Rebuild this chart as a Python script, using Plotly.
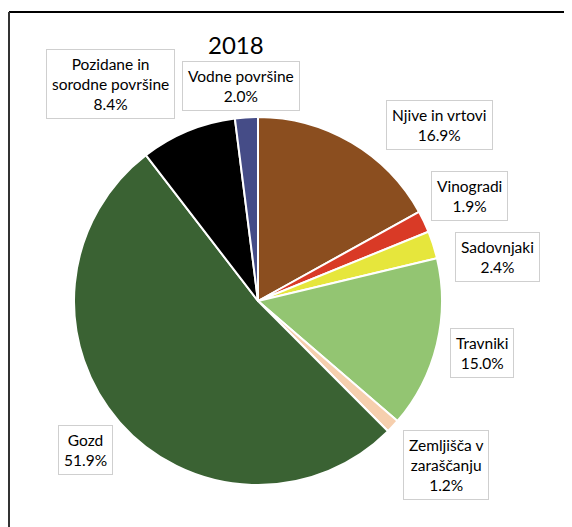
import plotly.graph_objects as go

# figure is placed by the browser at an 8px body offset
OFF = 8
W, H = 572 - OFF, 527 - OFF

categories = ["Njive in vrtovi", "Vinogradi", "Sadovnjaki", "Travniki",
              "Zemljišča v zaraščanju", "Gozd", "Pozidane in sorodne površine",
              "Vodne površine"]
values = [16.9, 1.9, 2.4, 15.0, 1.2, 51.9, 8.4, 2.0]
label_texts = ["Njive in vrtovi<br>16.9%", "Vinogradi<br>1.9%", "Sadovnjaki<br>2.4%",
               "Travniki<br>15.0%", "Zemljišča v<br>zaraščanju<br>1.2%", "Gozd<br>51.9%",
               "Pozidane in<br>sorodne površine<br>8.4%", "Vodne površine<br>2.0%"]
colors = ["#8B4E1F", "#D93A26", "#E6E63C", "#93C572", "#F6CFAE", "#3A6233",
          "#000000", "#454C87"]
title = "2018"

# label box centres in window pixels
label_pos = [(439, 125), (469, 196), (497, 257), (482, 353), (446, 465),
             (85, 450), (110, 84), (241, 86)]


def px(x):
    return (x - OFF) / W


def py(y):
    return 1 - (y - OFF) / H


cx, cy, r = 258, 301, 184

fig = go.Figure(go.Pie(
    labels=categories, values=values, sort=False, direction="clockwise",
    rotation=0, textinfo="none", hoverinfo="label+percent",
    marker=dict(colors=colors, line=dict(color="white", width=2)),
    domain=dict(x=[px(cx - r), px(cx + r)], y=[py(cy + r), py(cy - r)]),
    showlegend=False,
))

annotations = []
for t, (x, y) in zip(label_texts, label_pos):
    annotations.append(dict(
        text=t, x=px(x), y=py(y), xref="paper", yref="paper", showarrow=False,
        xanchor="center", yanchor="middle", align="center",
        font=dict(family="Lato", size=15.5, color="black"),
        bgcolor="white", bordercolor="#CFCFCF", borderwidth=1, borderpad=5,
    ))
annotations.append(dict(text=title, x=px(236), y=py(45), xref="paper", yref="paper",
                        showarrow=False, xanchor="center", yanchor="middle",
                        font=dict(family="Lato", size=24, color="black")))

shapes = [
    dict(type="line", xref="paper", yref="paper", x0=px(9), x1=1.02, y0=py(12), y1=py(12),
         line=dict(color="black", width=2)),
    dict(type="line", xref="paper", yref="paper", x0=px(9), x1=px(9), y0=py(12), y1=-0.02,
         line=dict(color="#333333", width=2)),
]

fig.update_layout(width=W, height=H, margin=dict(l=0, r=0, t=0, b=0),
                  paper_bgcolor="white", plot_bgcolor="white",
                  annotations=annotations, shapes=shapes)

fig.write_html("out.html")
